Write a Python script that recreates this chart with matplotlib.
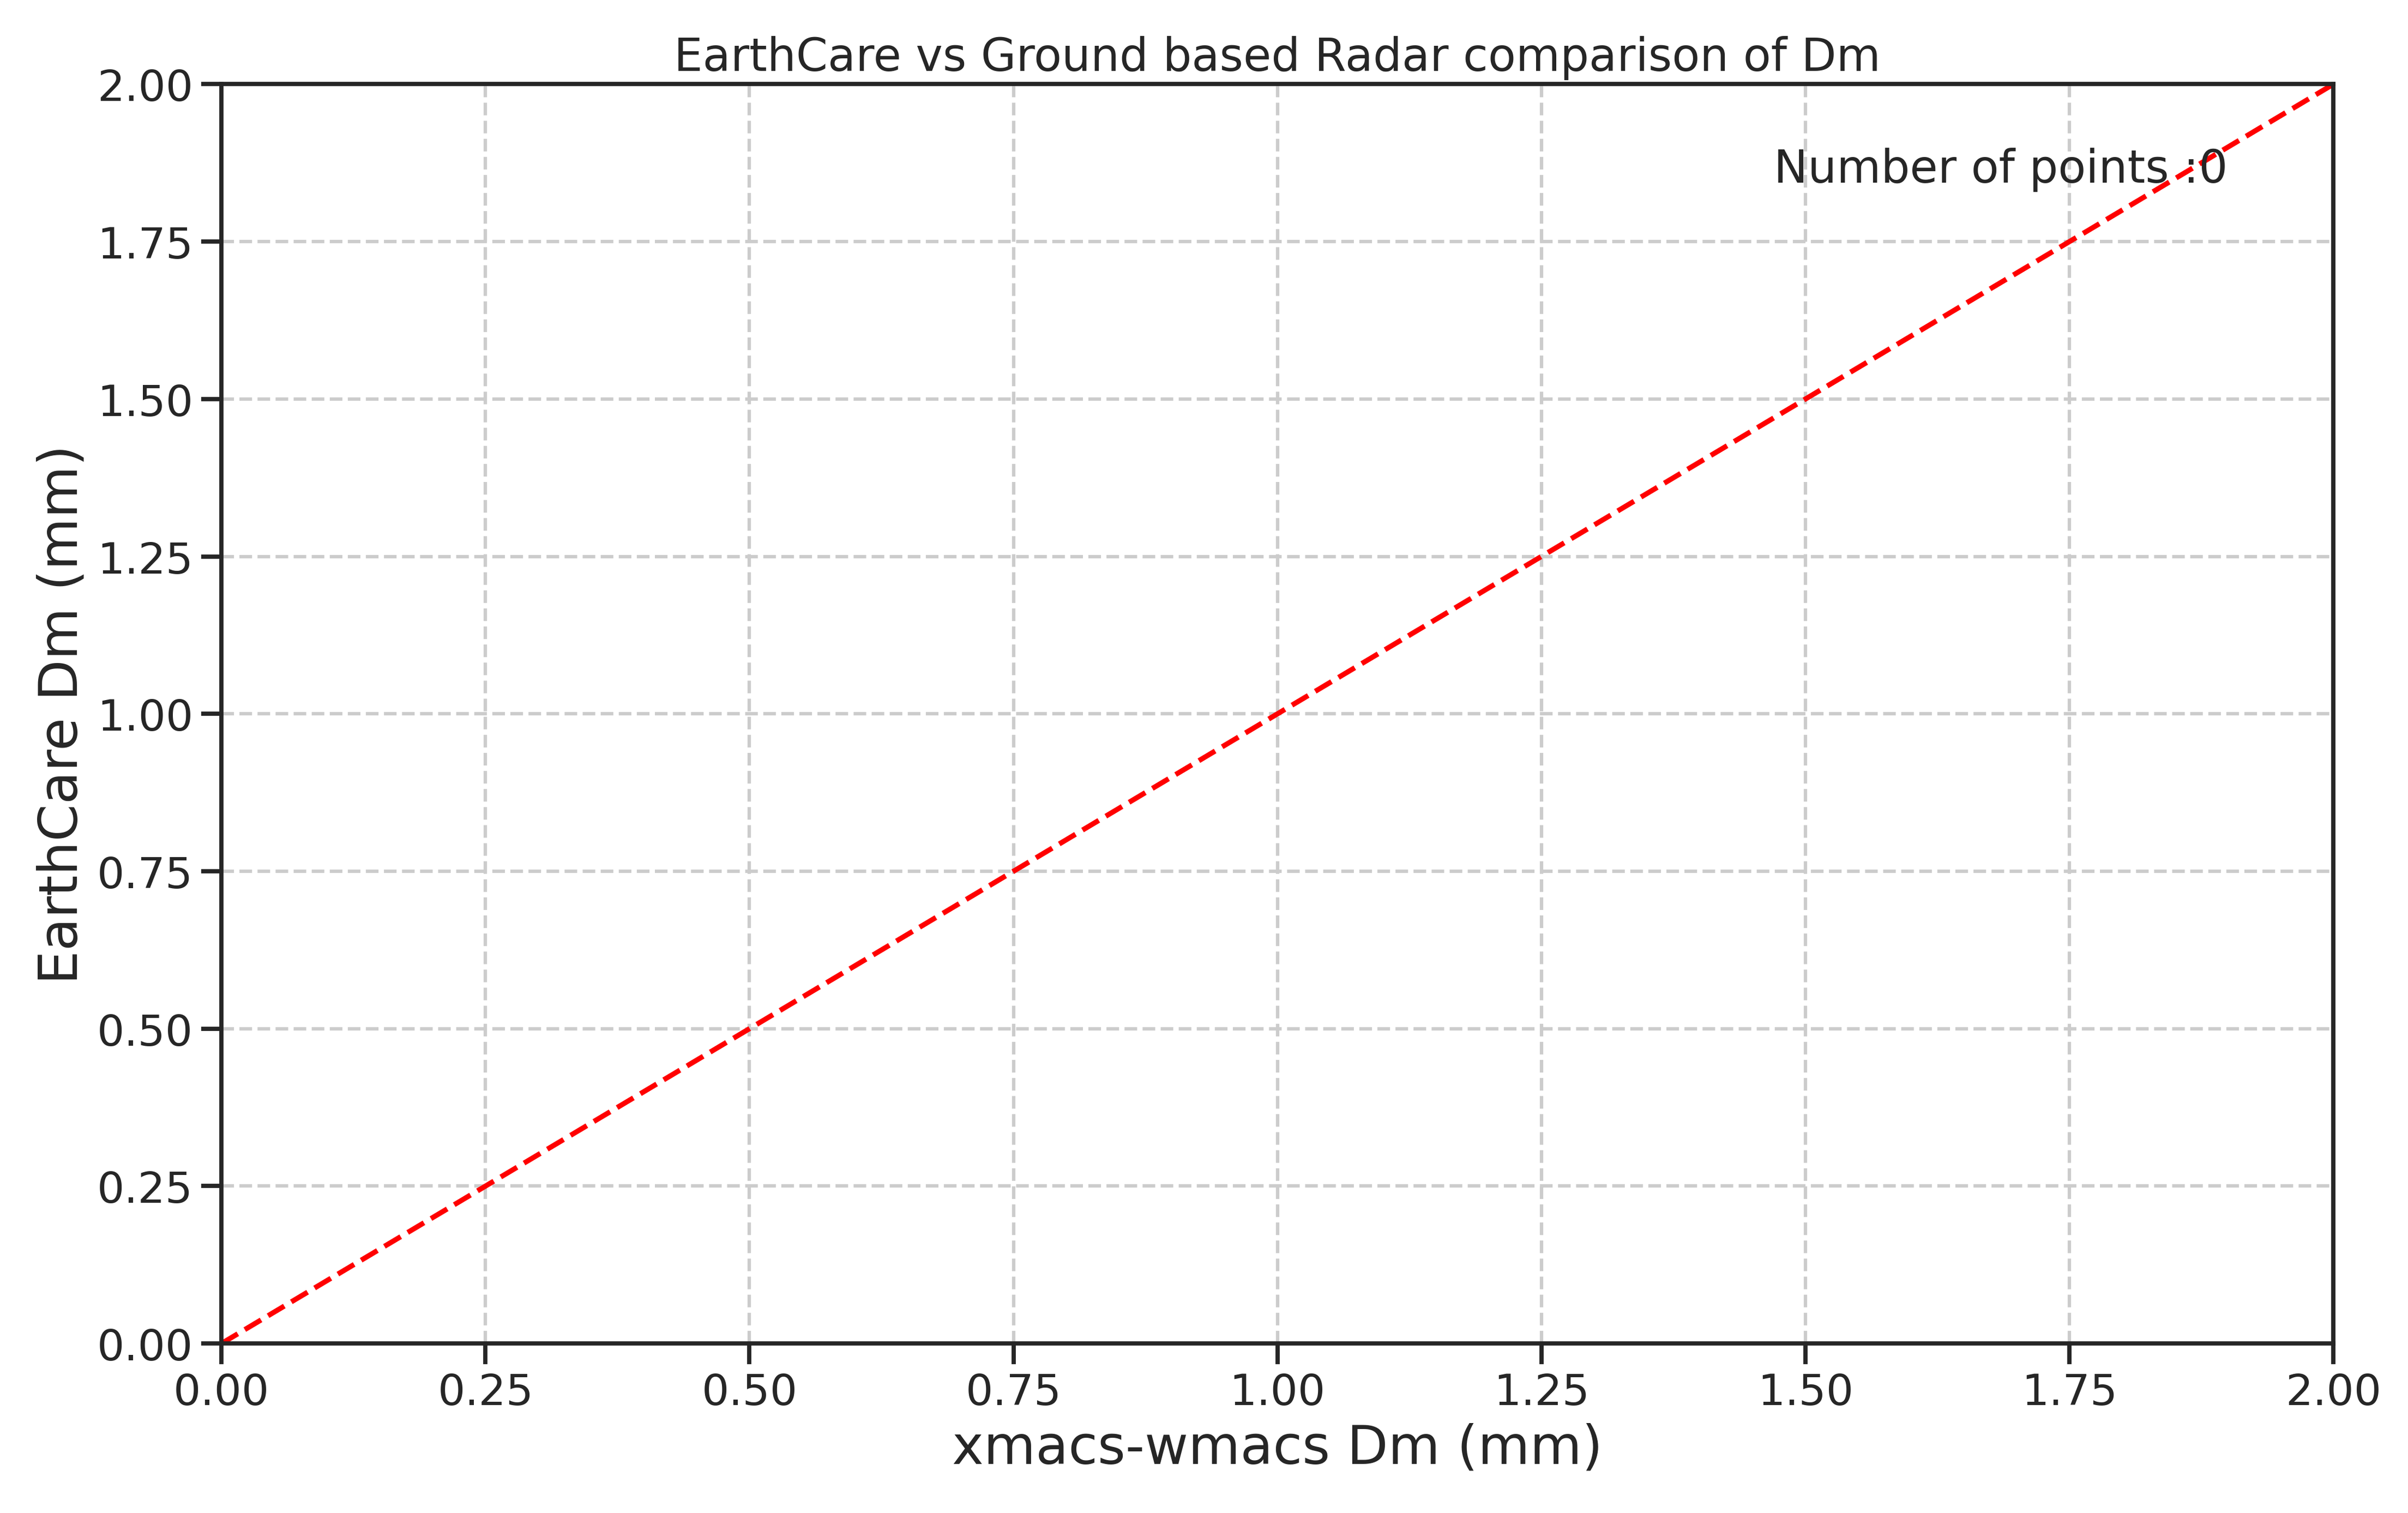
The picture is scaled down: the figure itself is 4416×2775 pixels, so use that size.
import numpy as np
import matplotlib
matplotlib.use("Agg")
import matplotlib.pyplot as plt
import seaborn as sns

# datos (no hay puntos coincidentes)
dm_ground = np.array([])
dm_earthcare = np.array([])
n_points = len(dm_ground)

lims = [0, 2]
ticks = np.arange(0, 2.01, 0.25)

sns.set_theme(style="ticks", context="talk")
plt.rcParams['font.family'] = ['DejaVu Sans']

fig, ax = plt.subplots(figsize=(14.72, 9.2533), dpi=300)
fig.subplots_adjust(left=0.092, right=0.969, top=0.944, bottom=0.112)

ax.scatter(dm_ground, dm_earthcare, s=20, color='tab:blue', alpha=0.6)
ax.plot(lims, lims, color='red', linestyle='--', linewidth=2.25)

ax.set_xlim(lims)
ax.set_ylim(lims)
ax.set_xticks(ticks)
ax.set_yticks(ticks)
ax.tick_params(labelsize=19)
ax.grid(True, linestyle='--', linewidth=1.5, color='#cccccc')

ax.text(0.95, 0.95, 'Number of points :' + str(n_points), transform=ax.transAxes,
        ha='right', va='top', fontsize=20)

ax.set_title('EarthCare vs Ground based Radar comparison of Dm', fontsize=20)
ax.set_xlabel('xmacs-wmacs Dm (mm)', fontsize=23.5)
ax.set_ylabel('EarthCare Dm (mm)', fontsize=23.5)

fig.savefig('out.png', dpi=300)
